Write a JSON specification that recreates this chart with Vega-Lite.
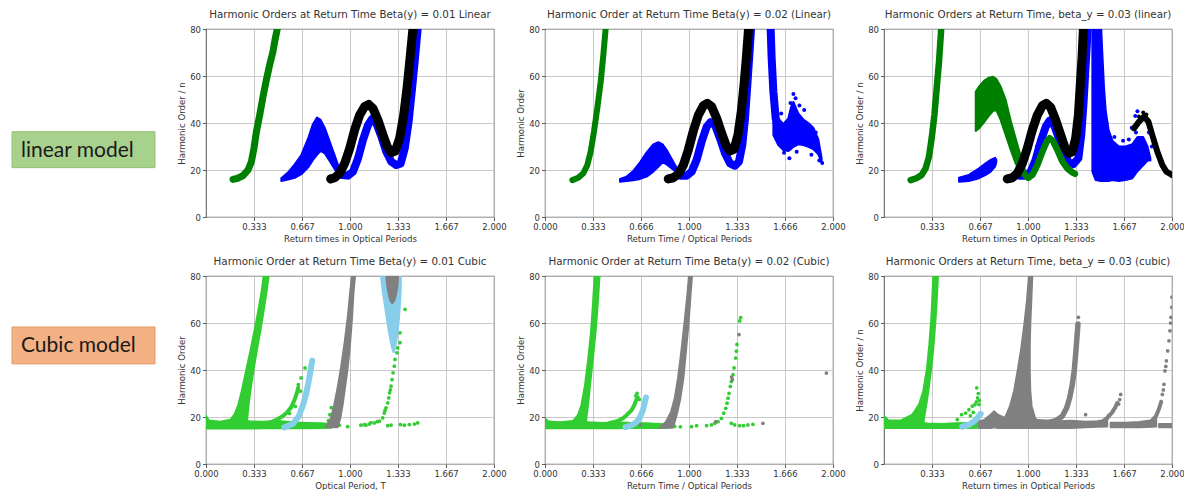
{
"$schema": "https://vega.github.io/schema/vega-lite/v6.json",
"background": "white",
"padding": {"left": 11, "top": 9, "right": 5, "bottom": 5},
"config": {
  "view": {"stroke": "#2b2b2b", "strokeWidth": 0.8},
  "axis": {"labelFont": "DejaVu Sans", "labelFontSize": 8.5, "labelColor": "#333333", "titleFont": "DejaVu Sans", "titleFontSize": 8.6, "titleFontWeight": "normal", "titleColor": "#333333", "grid": true, "gridColor": "#bdbdbd", "gridWidth": 0.8, "tickColor": "#333333", "tickSize": 3.5, "tickWidth": 0.8, "domain": false, "labelPadding": 2, "titlePadding": 3, "labelFlush": false, "labelOverlap": false, "labelBound": false},
  "title": {"font": "DejaVu Sans", "fontSize": 10.3, "fontWeight": "normal", "color": "#333333", "offset": 5}
},
"datasets": {
"d": [
{"p":1,"s":"r1","k":"l","g":"a","x":0.1875,"y":16.0},{"p":1,"s":"r1","k":"l","g":"a","x":0.222,"y":16.5},{"p":1,"s":"r1","k":"l","g":"a","x":0.257,"y":17.6},{"p":1,"s":"r1","k":"l","g":"a","x":0.292,"y":20.0},{"p":1,"s":"r1","k":"l","g":"a","x":0.315,"y":23.5},{"p":1,"s":"r1","k":"l","g":"a","x":0.333,"y":29.2},{"p":1,"s":"r1","k":"l","g":"a","x":0.35,"y":36.3},{"p":1,"s":"r1","k":"l","g":"a","x":0.373,"y":43.4},{"p":1,"s":"r1","k":"l","g":"a","x":0.396,"y":51.2},{"p":1,"s":"r1","k":"l","g":"a","x":0.419,"y":58.3},{"p":1,"s":"r1","k":"l","g":"a","x":0.442,"y":64.7},{"p":1,"s":"r1","k":"l","g":"a","x":0.465,"y":70.4},{"p":1,"s":"r1","k":"l","g":"a","x":0.481,"y":76.0},{"p":1,"s":"r1","k":"l","g":"a","x":0.495,"y":80.0},{"p":1,"s":"r1","k":"l","g":"a","x":0.501,"y":85.0},
{"p":1,"s":"r2","k":"va","g":"h","x":0.523,"y":16.5,"y2":15.3},{"p":1,"s":"r2","k":"va","g":"h","x":0.569,"y":18.9,"y2":15.9},{"p":1,"s":"r2","k":"va","g":"h","x":0.616,"y":22.4,"y2":16.7},{"p":1,"s":"r2","k":"va","g":"h","x":0.662,"y":26.4,"y2":18.2},{"p":1,"s":"r2","k":"va","g":"h","x":0.708,"y":33.2,"y2":21.0},{"p":1,"s":"r2","k":"va","g":"h","x":0.743,"y":39.6,"y2":24.3},{"p":1,"s":"r2","k":"va","g":"h","x":0.771,"y":42.3,"y2":26.4},{"p":1,"s":"r2","k":"va","g":"h","x":0.796,"y":41.3,"y2":28.2},{"p":1,"s":"r2","k":"va","g":"h","x":0.824,"y":38.0,"y2":27.1},{"p":1,"s":"r2","k":"va","g":"h","x":0.859,"y":32.1,"y2":23.8},{"p":1,"s":"r2","k":"va","g":"h","x":0.894,"y":26.1,"y2":20.3},{"p":1,"s":"r2","k":"va","g":"h","x":0.921,"y":21.4,"y2":18.3},{"p":1,"s":"r2","k":"va","g":"h","x":0.944,"y":18.6,"y2":17.2},
{"p":1,"s":"r2","k":"l","g":"s","x":0.944,"y":17.9},{"p":1,"s":"r2","k":"l","g":"s","x":0.986,"y":17.6},{"p":1,"s":"r2","k":"l","g":"s","x":1.021,"y":19.3},{"p":1,"s":"r2","k":"l","g":"s","x":1.056,"y":25.0},{"p":1,"s":"r2","k":"l","g":"s","x":1.09,"y":32.8},{"p":1,"s":"r2","k":"l","g":"s","x":1.125,"y":39.1},{"p":1,"s":"r2","k":"l","g":"s","x":1.153,"y":41.7},{"p":1,"s":"r2","k":"l","g":"s","x":1.183,"y":39.9},{"p":1,"s":"r2","k":"l","g":"s","x":1.218,"y":34.2},{"p":1,"s":"r2","k":"l","g":"s","x":1.252,"y":27.8},{"p":1,"s":"r2","k":"l","g":"s","x":1.287,"y":23.5},{"p":1,"s":"r2","k":"l","g":"s","x":1.322,"y":22.1},{"p":1,"s":"r2","k":"l","g":"s","x":1.352,"y":22.8},{"p":1,"s":"r2","k":"l","g":"s","x":1.38,"y":29.2},{"p":1,"s":"r2","k":"l","g":"s","x":1.407,"y":40.6},{"p":1,"s":"r2","k":"l","g":"s","x":1.431,"y":54.8},{"p":1,"s":"r2","k":"l","g":"s","x":1.449,"y":66.1},{"p":1,"s":"r2","k":"l","g":"s","x":1.468,"y":78.9},{"p":1,"s":"r2","k":"l","g":"s","x":1.477,"y":84.5},
{"p":1,"s":"r3","k":"l","g":"b","x":0.866,"y":16.2},{"p":1,"s":"r3","k":"l","g":"b","x":0.894,"y":16.7},{"p":1,"s":"r3","k":"l","g":"b","x":0.928,"y":18.6},{"p":1,"s":"r3","k":"l","g":"b","x":0.963,"y":22.8},{"p":1,"s":"r3","k":"l","g":"b","x":0.998,"y":29.2},{"p":1,"s":"r3","k":"l","g":"b","x":1.032,"y":37.0},{"p":1,"s":"r3","k":"l","g":"b","x":1.067,"y":43.4},{"p":1,"s":"r3","k":"l","g":"b","x":1.102,"y":47.0},{"p":1,"s":"r3","k":"l","g":"b","x":1.13,"y":47.9},{"p":1,"s":"r3","k":"l","g":"b","x":1.16,"y":46.2},{"p":1,"s":"r3","k":"l","g":"b","x":1.194,"y":41.3},{"p":1,"s":"r3","k":"l","g":"b","x":1.229,"y":34.9},{"p":1,"s":"r3","k":"l","g":"b","x":1.259,"y":29.9},{"p":1,"s":"r3","k":"l","g":"b","x":1.287,"y":27.4},{"p":1,"s":"r3","k":"l","g":"b","x":1.315,"y":28.1},{"p":1,"s":"r3","k":"l","g":"b","x":1.345,"y":33.5},{"p":1,"s":"r3","k":"l","g":"b","x":1.373,"y":43.4},{"p":1,"s":"r3","k":"l","g":"b","x":1.396,"y":54.8},{"p":1,"s":"r3","k":"l","g":"b","x":1.417,"y":67.5},{"p":1,"s":"r3","k":"l","g":"b","x":1.435,"y":78.9},{"p":1,"s":"r3","k":"l","g":"b","x":1.442,"y":84.5},

{"p":2,"s":"r1","k":"l","g":"a","x":0.19,"y":15.7},{"p":2,"s":"r1","k":"l","g":"a","x":0.231,"y":16.7},{"p":2,"s":"r1","k":"l","g":"a","x":0.266,"y":18.6},{"p":2,"s":"r1","k":"l","g":"a","x":0.294,"y":22.1},{"p":2,"s":"r1","k":"l","g":"a","x":0.317,"y":27.8},{"p":2,"s":"r1","k":"l","g":"a","x":0.34,"y":36.3},{"p":2,"s":"r1","k":"l","g":"a","x":0.363,"y":46.2},{"p":2,"s":"r1","k":"l","g":"a","x":0.387,"y":57.6},{"p":2,"s":"r1","k":"l","g":"a","x":0.405,"y":68.9},{"p":2,"s":"r1","k":"l","g":"a","x":0.421,"y":80.0},{"p":2,"s":"r1","k":"l","g":"a","x":0.426,"y":84.5},
{"p":2,"s":"r2","k":"va","g":"h","x":0.521,"y":16.2,"y2":15.0},{"p":2,"s":"r2","k":"va","g":"h","x":0.567,"y":17.2,"y2":15.3},{"p":2,"s":"r2","k":"va","g":"h","x":0.613,"y":19.6,"y2":15.6},{"p":2,"s":"r2","k":"va","g":"h","x":0.66,"y":23.3,"y2":16.2},{"p":2,"s":"r2","k":"va","g":"h","x":0.706,"y":27.5,"y2":17.2},{"p":2,"s":"r2","k":"va","g":"h","x":0.752,"y":30.9,"y2":19.3},{"p":2,"s":"r2","k":"va","g":"h","x":0.787,"y":31.8,"y2":21.4},{"p":2,"s":"r2","k":"va","g":"h","x":0.817,"y":30.9,"y2":23.3},{"p":2,"s":"r2","k":"va","g":"h","x":0.845,"y":28.5,"y2":22.4},{"p":2,"s":"r2","k":"va","g":"h","x":0.88,"y":24.7,"y2":20.7},{"p":2,"s":"r2","k":"va","g":"h","x":0.914,"y":21.0,"y2":19.0},{"p":2,"s":"r2","k":"va","g":"h","x":0.938,"y":19.0,"y2":18.2},
{"p":2,"s":"r2","k":"va","g":"c","x":1.586,"y":40.0,"y2":34.9},{"p":2,"s":"r2","k":"va","g":"c","x":1.62,"y":42.0,"y2":30.6},{"p":2,"s":"r2","k":"va","g":"c","x":1.655,"y":39.5,"y2":28.5},{"p":2,"s":"r2","k":"va","g":"c","x":1.69,"y":42.0,"y2":28.1},{"p":2,"s":"r2","k":"va","g":"c","x":1.71,"y":47.0,"y2":29.0},{"p":2,"s":"r2","k":"va","g":"c","x":1.725,"y":49.0,"y2":29.9},{"p":2,"s":"r2","k":"va","g":"c","x":1.745,"y":46.0,"y2":30.5},{"p":2,"s":"r2","k":"va","g":"c","x":1.76,"y":44.0,"y2":30.9},{"p":2,"s":"r2","k":"va","g":"c","x":1.794,"y":41.5,"y2":30.6},{"p":2,"s":"r2","k":"va","g":"c","x":1.829,"y":40.0,"y2":29.9},{"p":2,"s":"r2","k":"va","g":"c","x":1.863,"y":38.0,"y2":28.9},{"p":2,"s":"r2","k":"va","g":"c","x":1.898,"y":33.0,"y2":26.7},{"p":2,"s":"r2","k":"va","g":"c","x":1.921,"y":25.0,"y2":23.3},
{"p":2,"s":"r2","k":"l","g":"s","x":0.942,"y":17.6},{"p":2,"s":"r2","k":"l","g":"s","x":0.984,"y":17.6},{"p":2,"s":"r2","k":"l","g":"s","x":1.019,"y":19.3},{"p":2,"s":"r2","k":"l","g":"s","x":1.053,"y":24.3},{"p":2,"s":"r2","k":"l","g":"s","x":1.088,"y":32.1},{"p":2,"s":"r2","k":"l","g":"s","x":1.123,"y":38.4},{"p":2,"s":"r2","k":"l","g":"s","x":1.15,"y":40.4},{"p":2,"s":"r2","k":"l","g":"s","x":1.181,"y":39.1},{"p":2,"s":"r2","k":"l","g":"s","x":1.215,"y":33.5},{"p":2,"s":"r2","k":"l","g":"s","x":1.25,"y":27.1},{"p":2,"s":"r2","k":"l","g":"s","x":1.285,"y":22.8},{"p":2,"s":"r2","k":"l","g":"s","x":1.319,"y":21.8},{"p":2,"s":"r2","k":"l","g":"s","x":1.347,"y":23.5},{"p":2,"s":"r2","k":"l","g":"s","x":1.37,"y":30.6},{"p":2,"s":"r2","k":"l","g":"s","x":1.389,"y":42.0},{"p":2,"s":"r2","k":"l","g":"s","x":1.405,"y":56.2},{"p":2,"s":"r2","k":"l","g":"s","x":1.419,"y":68.9},{"p":2,"s":"r2","k":"l","g":"s","x":1.431,"y":80.3},{"p":2,"s":"r2","k":"l","g":"s","x":1.435,"y":84.5},
{"p":2,"s":"r2","k":"l","g":"t","x":1.5625,"y":84.5},{"p":2,"s":"r2","k":"l","g":"t","x":1.567,"y":80.0},{"p":2,"s":"r2","k":"l","g":"t","x":1.574,"y":67.5},{"p":2,"s":"r2","k":"l","g":"t","x":1.586,"y":53.3},{"p":2,"s":"r2","k":"l","g":"t","x":1.602,"y":42.0},{"p":2,"s":"r2","k":"l","g":"t","x":1.62,"y":36.3},
{"p":2,"s":"r2","k":"o","x":1.725,"y":52.3},{"p":2,"s":"r2","k":"o","x":1.74,"y":50.5},{"p":2,"s":"r2","k":"o","x":1.705,"y":48.5},{"p":2,"s":"r2","k":"o","x":1.767,"y":47.5},{"p":2,"s":"r2","k":"o","x":1.697,"y":25.0},{"p":2,"s":"r2","k":"o","x":1.748,"y":27.8},{"p":2,"s":"r2","k":"o","x":1.66,"y":27.3},{"p":2,"s":"r2","k":"o","x":1.85,"y":26.5},{"p":2,"s":"r2","k":"o","x":1.905,"y":24.0},{"p":2,"s":"r2","k":"o","x":1.64,"y":44.0},{"p":2,"s":"r2","k":"o","x":1.8,"y":45.5},{"p":2,"s":"r2","k":"o","x":1.88,"y":36.0},{"p":2,"s":"r2","k":"o","x":1.925,"y":23.0},
{"p":2,"s":"r3","k":"l","g":"b","x":0.856,"y":16.2},{"p":2,"s":"r3","k":"l","g":"b","x":0.891,"y":16.7},{"p":2,"s":"r3","k":"l","g":"b","x":0.926,"y":18.3},{"p":2,"s":"r3","k":"l","g":"b","x":0.961,"y":22.1},{"p":2,"s":"r3","k":"l","g":"b","x":0.995,"y":28.5},{"p":2,"s":"r3","k":"l","g":"b","x":1.03,"y":36.6},{"p":2,"s":"r3","k":"l","g":"b","x":1.065,"y":43.4},{"p":2,"s":"r3","k":"l","g":"b","x":1.1,"y":47.4},{"p":2,"s":"r3","k":"l","g":"b","x":1.127,"y":48.4},{"p":2,"s":"r3","k":"l","g":"b","x":1.157,"y":47.0},{"p":2,"s":"r3","k":"l","g":"b","x":1.192,"y":42.0},{"p":2,"s":"r3","k":"l","g":"b","x":1.227,"y":35.6},{"p":2,"s":"r3","k":"l","g":"b","x":1.257,"y":30.6},{"p":2,"s":"r3","k":"l","g":"b","x":1.285,"y":28.1},{"p":2,"s":"r3","k":"l","g":"b","x":1.313,"y":28.9},{"p":2,"s":"r3","k":"l","g":"b","x":1.34,"y":34.9},{"p":2,"s":"r3","k":"l","g":"b","x":1.363,"y":44.8},{"p":2,"s":"r3","k":"l","g":"b","x":1.382,"y":56.2},{"p":2,"s":"r3","k":"l","g":"b","x":1.398,"y":67.5},{"p":2,"s":"r3","k":"l","g":"b","x":1.412,"y":78.9},{"p":2,"s":"r3","k":"l","g":"b","x":1.419,"y":84.5},

{"p":3,"s":"r1","k":"l","g":"a","x":0.185,"y":15.7},{"p":3,"s":"r1","k":"l","g":"a","x":0.225,"y":16.5},{"p":3,"s":"r1","k":"l","g":"a","x":0.262,"y":17.9},{"p":3,"s":"r1","k":"l","g":"a","x":0.289,"y":20.7},{"p":3,"s":"r1","k":"l","g":"a","x":0.3125,"y":25.7},{"p":3,"s":"r1","k":"l","g":"a","x":0.331,"y":33.5},{"p":3,"s":"r1","k":"l","g":"a","x":0.35,"y":43.4},{"p":3,"s":"r1","k":"l","g":"a","x":0.366,"y":54.8},{"p":3,"s":"r1","k":"l","g":"a","x":0.382,"y":66.1},{"p":3,"s":"r1","k":"l","g":"a","x":0.396,"y":78.9},{"p":3,"s":"r1","k":"l","g":"a","x":0.4,"y":84.5},
{"p":3,"s":"r1","k":"va","g":"h","x":0.637,"y":53.3,"y2":36.6},{"p":3,"s":"r1","k":"va","g":"h","x":0.66,"y":55.5,"y2":37.7},{"p":3,"s":"r1","k":"va","g":"h","x":0.694,"y":57.9,"y2":40.3},{"p":3,"s":"r1","k":"va","g":"h","x":0.729,"y":59.3,"y2":43.1},{"p":3,"s":"r1","k":"va","g":"h","x":0.757,"y":59.7,"y2":45.1},{"p":3,"s":"r1","k":"va","g":"h","x":0.78,"y":58.7,"y2":45.5},{"p":3,"s":"r1","k":"va","g":"h","x":0.81,"y":55.5,"y2":41.3},{"p":3,"s":"r1","k":"va","g":"h","x":0.845,"y":49.8,"y2":34.9},{"p":3,"s":"r1","k":"va","g":"h","x":0.88,"y":41.0,"y2":28.5},{"p":3,"s":"r1","k":"va","g":"h","x":0.914,"y":33.5,"y2":22.8},{"p":3,"s":"r1","k":"va","g":"h","x":0.949,"y":26.0,"y2":18.6},{"p":3,"s":"r1","k":"va","g":"h","x":0.979,"y":20.0,"y2":16.5},{"p":3,"s":"r1","k":"va","g":"h","x":1.002,"y":17.2,"y2":16.2},
{"p":3,"s":"r1","k":"l","g":"c","x":1.002,"y":16.7},{"p":3,"s":"r1","k":"l","g":"c","x":1.03,"y":17.9},{"p":3,"s":"r1","k":"l","g":"c","x":1.065,"y":22.1},{"p":3,"s":"r1","k":"l","g":"c","x":1.1,"y":27.8},{"p":3,"s":"r1","k":"l","g":"c","x":1.13,"y":32.1},{"p":3,"s":"r1","k":"l","g":"c","x":1.15,"y":33.5},{"p":3,"s":"r1","k":"l","g":"c","x":1.174,"y":32.3},{"p":3,"s":"r1","k":"l","g":"c","x":1.204,"y":28.5},{"p":3,"s":"r1","k":"l","g":"c","x":1.238,"y":23.8},{"p":3,"s":"r1","k":"l","g":"c","x":1.273,"y":20.7},{"p":3,"s":"r1","k":"l","g":"c","x":1.308,"y":19.0},{"p":3,"s":"r1","k":"l","g":"c","x":1.326,"y":18.4},
{"p":3,"s":"r2","k":"va","g":"h","x":0.521,"y":16.7,"y2":15.0},{"p":3,"s":"r2","k":"va","g":"h","x":0.59,"y":17.9,"y2":15.3},{"p":3,"s":"r2","k":"va","g":"h","x":0.66,"y":20.7,"y2":16.5},{"p":3,"s":"r2","k":"va","g":"h","x":0.706,"y":22.8,"y2":17.9},{"p":3,"s":"r2","k":"va","g":"h","x":0.741,"y":24.3,"y2":19.3},{"p":3,"s":"r2","k":"va","g":"h","x":0.771,"y":25.2,"y2":21.4},{"p":3,"s":"r2","k":"va","g":"h","x":0.78,"y":24.3,"y2":23.3},
{"p":3,"s":"r2","k":"va","g":"k","x":1.447,"y":84.5,"y2":19.3},{"p":3,"s":"r2","k":"va","g":"k","x":1.47,"y":84.5,"y2":15.7},{"p":3,"s":"r2","k":"va","g":"k","x":1.505,"y":84.5,"y2":15.3},{"p":3,"s":"r2","k":"va","g":"k","x":1.516,"y":70.0,"y2":15.3},{"p":3,"s":"r2","k":"va","g":"k","x":1.528,"y":55.0,"y2":15.3},{"p":3,"s":"r2","k":"va","g":"k","x":1.54,"y":45.0,"y2":15.3},{"p":3,"s":"r2","k":"va","g":"k","x":1.56,"y":37.0,"y2":15.3},{"p":3,"s":"r2","k":"va","g":"k","x":1.586,"y":32.5,"y2":15.7},{"p":3,"s":"r2","k":"va","g":"k","x":1.63,"y":30.0,"y2":15.3},{"p":3,"s":"r2","k":"va","g":"k","x":1.678,"y":30.0,"y2":15.7},{"p":3,"s":"r2","k":"va","g":"k","x":1.725,"y":31.0,"y2":16.5},{"p":3,"s":"r2","k":"va","g":"k","x":1.76,"y":34.0,"y2":19.5},{"p":3,"s":"r2","k":"va","g":"k","x":1.8,"y":34.0,"y2":22.0},{"p":3,"s":"r2","k":"va","g":"k","x":1.83,"y":30.0,"y2":24.0},{"p":3,"s":"r2","k":"va","g":"k","x":1.85,"y":25.0,"y2":24.0},
{"p":3,"s":"r2","k":"l","g":"s","x":0.942,"y":17.6},{"p":3,"s":"r2","k":"l","g":"s","x":0.984,"y":17.6},{"p":3,"s":"r2","k":"l","g":"s","x":1.019,"y":19.3},{"p":3,"s":"r2","k":"l","g":"s","x":1.053,"y":24.3},{"p":3,"s":"r2","k":"l","g":"s","x":1.088,"y":32.1},{"p":3,"s":"r2","k":"l","g":"s","x":1.123,"y":38.4},{"p":3,"s":"r2","k":"l","g":"s","x":1.15,"y":41.0},{"p":3,"s":"r2","k":"l","g":"s","x":1.181,"y":39.1},{"p":3,"s":"r2","k":"l","g":"s","x":1.215,"y":33.5},{"p":3,"s":"r2","k":"l","g":"s","x":1.25,"y":27.1},{"p":3,"s":"r2","k":"l","g":"s","x":1.285,"y":23.0},{"p":3,"s":"r2","k":"l","g":"s","x":1.315,"y":22.5},{"p":3,"s":"r2","k":"l","g":"s","x":1.35,"y":25.0},{"p":3,"s":"r2","k":"l","g":"s","x":1.37,"y":35.0},{"p":3,"s":"r2","k":"l","g":"s","x":1.385,"y":48.0},{"p":3,"s":"r2","k":"l","g":"s","x":1.398,"y":62.0},{"p":3,"s":"r2","k":"l","g":"s","x":1.41,"y":75.0},{"p":3,"s":"r2","k":"l","g":"s","x":1.418,"y":84.5},
{"p":3,"s":"r2","k":"o","x":1.76,"y":45.0},{"p":3,"s":"r2","k":"o","x":1.745,"y":43.0},{"p":3,"s":"r2","k":"o","x":1.78,"y":41.0},{"p":3,"s":"r2","k":"o","x":1.72,"y":38.0},{"p":3,"s":"r2","k":"o","x":1.84,"y":36.0},{"p":3,"s":"r2","k":"o","x":1.66,"y":32.5},{"p":3,"s":"r2","k":"o","x":1.6,"y":34.0},{"p":3,"s":"r2","k":"o","x":1.86,"y":30.0},{"p":3,"s":"r2","k":"o","x":1.7,"y":33.0},{"p":3,"s":"r2","k":"o","x":1.75,"y":36.0},{"p":3,"s":"r2","k":"o","x":1.062,"y":30.0},{"p":3,"s":"r2","k":"o","x":1.545,"y":40.0},
{"p":3,"s":"r3","k":"l","g":"b","x":0.856,"y":16.2},{"p":3,"s":"r3","k":"l","g":"b","x":0.891,"y":16.7},{"p":3,"s":"r3","k":"l","g":"b","x":0.926,"y":18.6},{"p":3,"s":"r3","k":"l","g":"b","x":0.961,"y":22.8},{"p":3,"s":"r3","k":"l","g":"b","x":0.995,"y":29.2},{"p":3,"s":"r3","k":"l","g":"b","x":1.03,"y":37.0},{"p":3,"s":"r3","k":"l","g":"b","x":1.065,"y":43.4},{"p":3,"s":"r3","k":"l","g":"b","x":1.1,"y":47.4},{"p":3,"s":"r3","k":"l","g":"b","x":1.127,"y":48.4},{"p":3,"s":"r3","k":"l","g":"b","x":1.157,"y":46.7},{"p":3,"s":"r3","k":"l","g":"b","x":1.192,"y":41.3},{"p":3,"s":"r3","k":"l","g":"b","x":1.227,"y":34.9},{"p":3,"s":"r3","k":"l","g":"b","x":1.257,"y":29.5},{"p":3,"s":"r3","k":"l","g":"b","x":1.285,"y":27.1},{"p":3,"s":"r3","k":"l","g":"b","x":1.308,"y":27.8},{"p":3,"s":"r3","k":"l","g":"b","x":1.331,"y":33.5},{"p":3,"s":"r3","k":"l","g":"b","x":1.35,"y":43.4},{"p":3,"s":"r3","k":"l","g":"b","x":1.363,"y":56.2},{"p":3,"s":"r3","k":"l","g":"b","x":1.375,"y":67.5},{"p":3,"s":"r3","k":"l","g":"b","x":1.384,"y":78.9},{"p":3,"s":"r3","k":"l","g":"b","x":1.389,"y":84.5},
{"p":3,"s":"r3","k":"lt","g":"r","x":1.736,"y":37.7},{"p":3,"s":"r3","k":"lt","g":"r","x":1.771,"y":40.6},{"p":3,"s":"r3","k":"lt","g":"r","x":1.806,"y":42.7},{"p":3,"s":"r3","k":"lt","g":"r","x":1.836,"y":40.6},{"p":3,"s":"r3","k":"lt","g":"r","x":1.863,"y":34.9},{"p":3,"s":"r3","k":"lt","g":"r","x":1.898,"y":27.8},{"p":3,"s":"r3","k":"lt","g":"r","x":1.933,"y":22.1},{"p":3,"s":"r3","k":"lt","g":"r","x":1.961,"y":19.3},{"p":3,"s":"r3","k":"lt","g":"r","x":1.991,"y":18.2},
{"p":3,"s":"r3","k":"o","x":1.8,"y":44.5},{"p":3,"s":"r3","k":"o","x":1.77,"y":42.8},{"p":3,"s":"r3","k":"o","x":1.75,"y":38.5},{"p":3,"s":"r3","k":"o","x":1.822,"y":43.6},{"p":3,"s":"r3","k":"o","x":1.998,"y":17.4},

{"p":4,"s":"r1","k":"ha","g":"a","y":16.1,"x":0.127,"x2":0.289},{"p":4,"s":"r1","k":"ha","g":"a","y":18.2,"x":0.162,"x2":0.285},{"p":4,"s":"r1","k":"ha","g":"a","y":21.0,"x":0.197,"x2":0.289},{"p":4,"s":"r1","k":"ha","g":"a","y":25.3,"x":0.225,"x2":0.296},{"p":4,"s":"r1","k":"ha","g":"a","y":31.0,"x":0.248,"x2":0.308},{"p":4,"s":"r1","k":"ha","g":"a","y":39.5,"x":0.278,"x2":0.329},{"p":4,"s":"r1","k":"ha","g":"a","y":48.0,"x":0.308,"x2":0.352},{"p":4,"s":"r1","k":"ha","g":"a","y":56.5,"x":0.336,"x2":0.377},{"p":4,"s":"r1","k":"ha","g":"a","y":65.1,"x":0.363,"x2":0.4},{"p":4,"s":"r1","k":"ha","g":"a","y":73.6,"x":0.387,"x2":0.421},{"p":4,"s":"r1","k":"ha","g":"a","y":80.0,"x":0.4,"x2":0.435},{"p":4,"s":"r1","k":"ha","g":"a","y":83.5,"x":0.407,"x2":0.442},
{"p":4,"s":"r1","k":"va","g":"b","x":0.0,"y":20.5,"y2":15.1},{"p":4,"s":"r1","k":"va","g":"b","x":0.02,"y":18.5,"y2":15.1},{"p":4,"s":"r1","k":"va","g":"b","x":0.05,"y":18.3,"y2":15.1},{"p":4,"s":"r1","k":"va","g":"b","x":0.1,"y":18.0,"y2":15.1},{"p":4,"s":"r1","k":"va","g":"b","x":0.15,"y":18.6,"y2":15.1},{"p":4,"s":"r1","k":"va","g":"b","x":0.2,"y":18.9,"y2":15.1},{"p":4,"s":"r1","k":"va","g":"b","x":0.3,"y":18.2,"y2":15.1},{"p":4,"s":"r1","k":"va","g":"b","x":0.4,"y":18.0,"y2":15.2},{"p":4,"s":"r1","k":"va","g":"b","x":0.5,"y":18.3,"y2":15.2},{"p":4,"s":"r1","k":"va","g":"b","x":0.6,"y":17.8,"y2":15.2},{"p":4,"s":"r1","k":"va","g":"b","x":0.7,"y":17.5,"y2":15.2},{"p":4,"s":"r1","k":"va","g":"b","x":0.8,"y":17.3,"y2":15.3},{"p":4,"s":"r1","k":"va","g":"b","x":0.87,"y":17.0,"y2":15.4},
{"p":4,"s":"r1","k":"lt","g":"c","x":0.44,"y":17.5},{"p":4,"s":"r1","k":"lt","g":"c","x":0.49,"y":18.8},{"p":4,"s":"r1","k":"lt","g":"c","x":0.532,"y":20.3},{"p":4,"s":"r1","k":"lt","g":"c","x":0.56,"y":21.8},{"p":4,"s":"r1","k":"lt","g":"c","x":0.59,"y":24.0},{"p":4,"s":"r1","k":"lt","g":"c","x":0.613,"y":27.0},{"p":4,"s":"r1","k":"lt","g":"c","x":0.63,"y":30.0},{"p":4,"s":"r1","k":"lt","g":"c","x":0.64,"y":32.5},
{"p":4,"s":"r1","k":"o","x":0.641,"y":33.8},{"p":4,"s":"r1","k":"o","x":0.66,"y":36.6},{"p":4,"s":"r1","k":"o","x":0.6875,"y":40.9},{"p":4,"s":"r1","k":"o","x":0.655,"y":31.0},{"p":4,"s":"r1","k":"o","x":0.62,"y":24.5},{"p":4,"s":"r1","k":"o","x":0.58,"y":21.5},{"p":4,"s":"r1","k":"o","x":0.85,"y":18.5},{"p":4,"s":"r1","k":"o","x":0.86,"y":21.0},{"p":4,"s":"r1","k":"o","x":0.87,"y":24.0},{"p":4,"s":"r1","k":"o","x":0.926,"y":16.5},{"p":4,"s":"r1","k":"o","x":0.984,"y":15.9},
{"p":4,"s":"r1","k":"o","x":1.134,"y":17.0},{"p":4,"s":"r1","k":"o","x":1.169,"y":17.5},{"p":4,"s":"r1","k":"o","x":1.204,"y":18.2},{"p":4,"s":"r1","k":"o","x":1.227,"y":19.6},{"p":4,"s":"r1","k":"o","x":1.238,"y":21.7},{"p":4,"s":"r1","k":"o","x":1.25,"y":23.9},{"p":4,"s":"r1","k":"o","x":1.262,"y":26.0},{"p":4,"s":"r1","k":"o","x":1.269,"y":28.1},{"p":4,"s":"r1","k":"o","x":1.275,"y":30.3},{"p":4,"s":"r1","k":"o","x":1.285,"y":33.1},{"p":4,"s":"r1","k":"o","x":1.292,"y":35.9},{"p":4,"s":"r1","k":"o","x":1.299,"y":38.8},{"p":4,"s":"r1","k":"o","x":1.308,"y":41.6},{"p":4,"s":"r1","k":"o","x":1.3125,"y":44.5},{"p":4,"s":"r1","k":"o","x":1.326,"y":47.3},{"p":4,"s":"r1","k":"o","x":1.331,"y":49.4},{"p":4,"s":"r1","k":"o","x":1.347,"y":51.6},{"p":4,"s":"r1","k":"o","x":1.347,"y":55.8},{"p":4,"s":"r1","k":"o","x":1.382,"y":65.8},{"p":4,"s":"r1","k":"o","x":1.076,"y":16.5},{"p":4,"s":"r1","k":"o","x":1.1,"y":16.8},{"p":4,"s":"r1","k":"o","x":1.111,"y":16.5},{"p":4,"s":"r1","k":"o","x":1.262,"y":16.3},{"p":4,"s":"r1","k":"o","x":1.285,"y":16.5},{"p":4,"s":"r1","k":"o","x":1.35,"y":16.8},{"p":4,"s":"r1","k":"o","x":1.377,"y":16.5},{"p":4,"s":"r1","k":"o","x":1.412,"y":16.8},{"p":4,"s":"r1","k":"o","x":1.447,"y":17.0},{"p":4,"s":"r1","k":"o","x":1.47,"y":17.5},{"p":4,"s":"r1","k":"o","x":1.145,"y":17.6},{"p":4,"s":"r1","k":"o","x":1.19,"y":18.0},{"p":4,"s":"r1","k":"o","x":1.243,"y":22.8},{"p":4,"s":"r1","k":"o","x":1.28,"y":31.5},
{"p":4,"s":"r2","k":"l","g":"s","x":0.544,"y":15.6},{"p":4,"s":"r2","k":"l","g":"s","x":0.602,"y":17.0},{"p":4,"s":"r2","k":"l","g":"s","x":0.644,"y":20.3},{"p":4,"s":"r2","k":"l","g":"s","x":0.671,"y":24.6},{"p":4,"s":"r2","k":"l","g":"s","x":0.694,"y":29.5},{"p":4,"s":"r2","k":"l","g":"s","x":0.713,"y":35.2},{"p":4,"s":"r2","k":"l","g":"s","x":0.729,"y":40.9},{"p":4,"s":"r2","k":"l","g":"s","x":0.738,"y":44.0},
{"p":4,"s":"r2","k":"ha","g":"t","y":47.7,"x":1.301,"x2":1.306},{"p":4,"s":"r2","k":"ha","g":"t","y":48.7,"x":1.296,"x2":1.31},{"p":4,"s":"r2","k":"ha","g":"t","y":52.3,"x":1.282,"x2":1.322},{"p":4,"s":"r2","k":"ha","g":"t","y":56.5,"x":1.269,"x2":1.331},{"p":4,"s":"r2","k":"ha","g":"t","y":62.2,"x":1.255,"x2":1.34},{"p":4,"s":"r2","k":"ha","g":"t","y":67.9,"x":1.241,"x2":1.347},{"p":4,"s":"r2","k":"ha","g":"t","y":73.6,"x":1.227,"x2":1.352},{"p":4,"s":"r2","k":"ha","g":"t","y":80.0,"x":1.215,"x2":1.354},{"p":4,"s":"r2","k":"ha","g":"t","y":83.5,"x":1.211,"x2":1.359},
{"p":4,"s":"r3","k":"ha","g":"g","y":15.6,"x":0.833,"x2":0.914},{"p":4,"s":"r3","k":"ha","g":"g","y":19.6,"x":0.868,"x2":0.933},{"p":4,"s":"r3","k":"ha","g":"g","y":25.3,"x":0.891,"x2":0.949},{"p":4,"s":"r3","k":"ha","g":"g","y":32.4,"x":0.914,"x2":0.965},{"p":4,"s":"r3","k":"ha","g":"g","y":40.9,"x":0.9375,"x2":0.984},{"p":4,"s":"r3","k":"ha","g":"g","y":50.9,"x":0.961,"x2":1.0},{"p":4,"s":"r3","k":"ha","g":"g","y":62.2,"x":0.984,"x2":1.014},{"p":4,"s":"r3","k":"ha","g":"g","y":73.6,"x":1.002,"x2":1.025},{"p":4,"s":"r3","k":"ha","g":"g","y":80.0,"x":1.014,"x2":1.035},{"p":4,"s":"r3","k":"ha","g":"g","y":83.5,"x":1.019,"x2":1.039},
{"p":4,"s":"r3","k":"ha","g":"t","y":68.5,"x":1.292,"x2":1.296},{"p":4,"s":"r3","k":"ha","g":"t","y":69.6,"x":1.28,"x2":1.308},{"p":4,"s":"r3","k":"ha","g":"t","y":72.2,"x":1.269,"x2":1.319},{"p":4,"s":"r3","k":"ha","g":"t","y":75.7,"x":1.259,"x2":1.329},{"p":4,"s":"r3","k":"ha","g":"t","y":80.0,"x":1.252,"x2":1.334},{"p":4,"s":"r3","k":"ha","g":"t","y":83.5,"x":1.25,"x2":1.336},

{"p":5,"s":"r1","k":"ha","g":"a","y":16.3,"x":0.133,"x2":0.283},{"p":5,"s":"r1","k":"ha","g":"a","y":18.0,"x":0.191,"x2":0.285},{"p":5,"s":"r1","k":"ha","g":"a","y":20.9,"x":0.23,"x2":0.29},{"p":5,"s":"r1","k":"ha","g":"a","y":25.1,"x":0.253,"x2":0.299},{"p":5,"s":"r1","k":"ha","g":"a","y":33.7,"x":0.278,"x2":0.313},{"p":5,"s":"r1","k":"ha","g":"a","y":45.1,"x":0.301,"x2":0.333},{"p":5,"s":"r1","k":"ha","g":"a","y":56.6,"x":0.32,"x2":0.352},{"p":5,"s":"r1","k":"ha","g":"a","y":68.0,"x":0.333,"x2":0.366},{"p":5,"s":"r1","k":"ha","g":"a","y":80.1,"x":0.345,"x2":0.379},{"p":5,"s":"r1","k":"ha","g":"a","y":83.7,"x":0.347,"x2":0.384},
{"p":5,"s":"r1","k":"va","g":"b","x":0.0,"y":19.5,"y2":15.2},{"p":5,"s":"r1","k":"va","g":"b","x":0.02,"y":18.2,"y2":15.2},{"p":5,"s":"r1","k":"va","g":"b","x":0.05,"y":18.0,"y2":15.2},{"p":5,"s":"r1","k":"va","g":"b","x":0.1,"y":17.8,"y2":15.2},{"p":5,"s":"r1","k":"va","g":"b","x":0.2,"y":18.3,"y2":15.2},{"p":5,"s":"r1","k":"va","g":"b","x":0.3,"y":17.8,"y2":15.2},{"p":5,"s":"r1","k":"va","g":"b","x":0.4,"y":17.5,"y2":15.2},{"p":5,"s":"r1","k":"va","g":"b","x":0.5,"y":17.8,"y2":15.2},{"p":5,"s":"r1","k":"va","g":"b","x":0.6,"y":17.5,"y2":15.3},{"p":5,"s":"r1","k":"va","g":"b","x":0.7,"y":17.3,"y2":15.3},{"p":5,"s":"r1","k":"va","g":"b","x":0.8,"y":17.0,"y2":15.3},{"p":5,"s":"r1","k":"va","g":"b","x":0.86,"y":16.8,"y2":15.4},
{"p":5,"s":"r1","k":"lt","g":"c","x":0.45,"y":17.5},{"p":5,"s":"r1","k":"lt","g":"c","x":0.5,"y":18.2},{"p":5,"s":"r1","k":"lt","g":"c","x":0.54,"y":19.4},{"p":5,"s":"r1","k":"lt","g":"c","x":0.57,"y":21.0},{"p":5,"s":"r1","k":"lt","g":"c","x":0.6,"y":22.8},{"p":5,"s":"r1","k":"lt","g":"c","x":0.62,"y":25.0},{"p":5,"s":"r1","k":"lt","g":"c","x":0.635,"y":27.5},
{"p":5,"s":"r1","k":"o","x":0.639,"y":30.1},{"p":5,"s":"r1","k":"o","x":0.63,"y":29.0},{"p":5,"s":"r1","k":"o","x":0.645,"y":28.5},{"p":5,"s":"r1","k":"o","x":0.655,"y":27.5},
{"p":5,"s":"r1","k":"o","x":1.018,"y":15.9},{"p":5,"s":"r1","k":"o","x":1.053,"y":16.3},{"p":5,"s":"r1","k":"o","x":1.122,"y":16.3},{"p":5,"s":"r1","k":"o","x":1.156,"y":16.6},{"p":5,"s":"r1","k":"o","x":1.179,"y":17.3},{"p":5,"s":"r1","k":"o","x":1.202,"y":18.0},{"p":5,"s":"r1","k":"o","x":1.225,"y":19.4},{"p":5,"s":"r1","k":"o","x":1.241,"y":21.6},{"p":5,"s":"r1","k":"o","x":1.255,"y":23.7},{"p":5,"s":"r1","k":"o","x":1.264,"y":25.9},{"p":5,"s":"r1","k":"o","x":1.271,"y":28.0},{"p":5,"s":"r1","k":"o","x":1.278,"y":30.1},{"p":5,"s":"r1","k":"o","x":1.287,"y":33.0},{"p":5,"s":"r1","k":"o","x":1.294,"y":35.1},{"p":5,"s":"r1","k":"o","x":1.306,"y":38.0},{"p":5,"s":"r1","k":"o","x":1.313,"y":40.9},{"p":5,"s":"r1","k":"o","x":1.324,"y":45.1},{"p":5,"s":"r1","k":"o","x":1.329,"y":48.0},{"p":5,"s":"r1","k":"o","x":1.333,"y":50.9},{"p":5,"s":"r1","k":"o","x":1.352,"y":60.9},{"p":5,"s":"r1","k":"o","x":1.359,"y":62.3},{"p":5,"s":"r1","k":"o","x":1.294,"y":17.3},{"p":5,"s":"r1","k":"o","x":1.317,"y":16.6},{"p":5,"s":"r1","k":"o","x":1.352,"y":16.3},{"p":5,"s":"r1","k":"o","x":1.379,"y":16.3},{"p":5,"s":"r1","k":"o","x":1.409,"y":16.6},{"p":5,"s":"r1","k":"o","x":1.444,"y":16.9},{"p":5,"s":"r1","k":"o","x":0.9,"y":16.0},{"p":5,"s":"r1","k":"o","x":0.94,"y":15.8},
{"p":5,"s":"r2","k":"l","g":"s","x":0.559,"y":15.7},{"p":5,"s":"r2","k":"l","g":"s","x":0.605,"y":16.6},{"p":5,"s":"r2","k":"l","g":"s","x":0.639,"y":18.0},{"p":5,"s":"r2","k":"l","g":"s","x":0.662,"y":20.1},{"p":5,"s":"r2","k":"l","g":"s","x":0.68,"y":23.0},{"p":5,"s":"r2","k":"l","g":"s","x":0.692,"y":25.9},{"p":5,"s":"r2","k":"l","g":"s","x":0.701,"y":28.3},
{"p":5,"s":"r3","k":"ha","g":"g","y":15.4,"x":0.795,"x2":0.887},{"p":5,"s":"r3","k":"ha","g":"g","y":18.0,"x":0.841,"x2":0.901},{"p":5,"s":"r3","k":"ha","g":"g","y":22.3,"x":0.876,"x2":0.92},{"p":5,"s":"r3","k":"ha","g":"g","y":28.0,"x":0.901,"x2":0.94},{"p":5,"s":"r3","k":"ha","g":"g","y":36.6,"x":0.924,"x2":0.961},{"p":5,"s":"r3","k":"ha","g":"g","y":48.0,"x":0.947,"x2":0.979},{"p":5,"s":"r3","k":"ha","g":"g","y":60.9,"x":0.97,"x2":0.998},{"p":5,"s":"r3","k":"ha","g":"g","y":72.3,"x":0.989,"x2":1.011},{"p":5,"s":"r3","k":"ha","g":"g","y":80.1,"x":1.0,"x2":1.021},{"p":5,"s":"r3","k":"ha","g":"g","y":83.7,"x":1.005,"x2":1.025},
{"p":5,"s":"r3","k":"o","x":1.347,"y":55.1},{"p":5,"s":"r3","k":"o","x":1.301,"y":35.9},{"p":5,"s":"r3","k":"o","x":1.513,"y":17.3},{"p":5,"s":"r3","k":"o","x":1.954,"y":38.7},{"p":5,"s":"r3","k":"o","x":0.662,"y":16.6},{"p":5,"s":"r3","k":"o","x":1.186,"y":18.0},{"p":5,"s":"r3","k":"o","x":1.296,"y":37.0},

{"p":6,"s":"r1","k":"ha","g":"a","y":16.4,"x":0.0,"x2":0.271},{"p":6,"s":"r1","k":"ha","g":"a","y":18.1,"x":0.104,"x2":0.275},{"p":6,"s":"r1","k":"ha","g":"a","y":21.0,"x":0.197,"x2":0.282},{"p":6,"s":"r1","k":"ha","g":"a","y":25.3,"x":0.243,"x2":0.294},{"p":6,"s":"r1","k":"ha","g":"a","y":31.0,"x":0.273,"x2":0.308},{"p":6,"s":"r1","k":"ha","g":"a","y":41.0,"x":0.299,"x2":0.329},{"p":6,"s":"r1","k":"ha","g":"a","y":51.0,"x":0.315,"x2":0.345},{"p":6,"s":"r1","k":"ha","g":"a","y":62.4,"x":0.329,"x2":0.359},{"p":6,"s":"r1","k":"ha","g":"a","y":73.9,"x":0.338,"x2":0.37},{"p":6,"s":"r1","k":"ha","g":"a","y":80.3,"x":0.343,"x2":0.375},{"p":6,"s":"r1","k":"ha","g":"a","y":83.9,"x":0.345,"x2":0.377},
{"p":6,"s":"r1","k":"va","g":"b","x":0.0,"y":20.5,"y2":15.3},{"p":6,"s":"r1","k":"va","g":"b","x":0.03,"y":18.5,"y2":15.3},{"p":6,"s":"r1","k":"va","g":"b","x":0.1,"y":18.5,"y2":15.3},{"p":6,"s":"r1","k":"va","g":"b","x":0.2,"y":17.8,"y2":15.3},{"p":6,"s":"r1","k":"va","g":"b","x":0.3,"y":17.2,"y2":15.3},{"p":6,"s":"r1","k":"va","g":"b","x":0.4,"y":17.0,"y2":15.3},{"p":6,"s":"r1","k":"va","g":"b","x":0.5,"y":17.3,"y2":15.3},{"p":6,"s":"r1","k":"va","g":"b","x":0.6,"y":17.5,"y2":15.3},{"p":6,"s":"r1","k":"va","g":"b","x":0.66,"y":17.5,"y2":15.4},
{"p":6,"s":"r1","k":"o","x":0.567,"y":21.7},{"p":6,"s":"r1","k":"o","x":0.59,"y":23.1},{"p":6,"s":"r1","k":"o","x":0.613,"y":24.6},{"p":6,"s":"r1","k":"o","x":0.632,"y":25.3},{"p":6,"s":"r1","k":"o","x":0.641,"y":26.4},{"p":6,"s":"r1","k":"o","x":0.65,"y":28.1},{"p":6,"s":"r1","k":"o","x":0.644,"y":32.4},{"p":6,"s":"r1","k":"o","x":0.66,"y":25.3},{"p":6,"s":"r1","k":"o","x":0.539,"y":21.0},{"p":6,"s":"r1","k":"o","x":0.509,"y":18.9},{"p":6,"s":"r1","k":"o","x":0.655,"y":30.0},{"p":6,"s":"r1","k":"o","x":0.62,"y":22.0},{"p":6,"s":"r1","k":"o","x":0.6,"y":20.5},{"p":6,"s":"r1","k":"o","x":0.662,"y":27.0},{"p":6,"s":"r1","k":"o","x":1.56,"y":20.7},
{"p":6,"s":"r2","k":"l","g":"s","x":0.544,"y":15.9},{"p":6,"s":"r2","k":"l","g":"s","x":0.59,"y":16.7},{"p":6,"s":"r2","k":"l","g":"s","x":0.625,"y":18.1},{"p":6,"s":"r2","k":"l","g":"s","x":0.653,"y":19.9},{"p":6,"s":"r2","k":"l","g":"s","x":0.671,"y":21.3},
{"p":6,"s":"r3","k":"ha","g":"g","y":17.4,"x":0.799,"x2":1.076},{"p":6,"s":"r3","k":"ha","g":"g","y":19.6,"x":0.84,"x2":1.049},{"p":6,"s":"r3","k":"ha","g":"g","y":24.6,"x":0.875,"x2":1.025},{"p":6,"s":"r3","k":"ha","g":"g","y":31.0,"x":0.903,"x2":1.016},{"p":6,"s":"r3","k":"ha","g":"g","y":39.6,"x":0.928,"x2":1.012},{"p":6,"s":"r3","k":"ha","g":"g","y":49.6,"x":0.954,"x2":1.012},{"p":6,"s":"r3","k":"ha","g":"g","y":59.6,"x":0.975,"x2":1.016},{"p":6,"s":"r3","k":"ha","g":"g","y":69.6,"x":0.993,"x2":1.023},{"p":6,"s":"r3","k":"ha","g":"g","y":80.3,"x":1.007,"x2":1.03},{"p":6,"s":"r3","k":"ha","g":"g","y":83.9,"x":1.012,"x2":1.035},
{"p":6,"s":"r3","k":"va","g":"b","x":0.66,"y":18.1,"y2":15.3},{"p":6,"s":"r3","k":"va","g":"b","x":0.7,"y":18.9,"y2":15.3},{"p":6,"s":"r3","k":"va","g":"b","x":0.74,"y":21.0,"y2":15.3},{"p":6,"s":"r3","k":"va","g":"b","x":0.764,"y":22.4,"y2":15.6},{"p":6,"s":"r3","k":"va","g":"b","x":0.79,"y":21.0,"y2":15.3},{"p":6,"s":"r3","k":"va","g":"b","x":0.84,"y":19.6,"y2":15.3},{"p":6,"s":"r3","k":"va","g":"b","x":1.0,"y":18.9,"y2":15.3},{"p":6,"s":"r3","k":"va","g":"b","x":1.1,"y":18.6,"y2":15.3},{"p":6,"s":"r3","k":"va","g":"b","x":1.2,"y":18.2,"y2":15.3},{"p":6,"s":"r3","k":"va","g":"b","x":1.3,"y":18.4,"y2":15.3},{"p":6,"s":"r3","k":"va","g":"b","x":1.4,"y":18.0,"y2":15.6},{"p":6,"s":"r3","k":"va","g":"b","x":1.48,"y":18.2,"y2":15.8},{"p":6,"s":"r3","k":"va","g":"b","x":1.55,"y":18.8,"y2":16.0},
{"p":6,"s":"r3","k":"va","g":"c","x":1.574,"y":17.6,"y2":15.6},{"p":6,"s":"r3","k":"va","g":"c","x":1.678,"y":17.6,"y2":15.6},{"p":6,"s":"r3","k":"va","g":"c","x":1.771,"y":17.9,"y2":15.6},{"p":6,"s":"r3","k":"va","g":"c","x":1.863,"y":18.6,"y2":15.8},{"p":6,"s":"r3","k":"va","g":"c","x":1.89,"y":20.0,"y2":16.0},
{"p":6,"s":"r3","k":"va","g":"d","x":1.91,"y":17.0,"y2":15.6},{"p":6,"s":"r3","k":"va","g":"d","x":2.0,"y":17.0,"y2":15.6},
{"p":6,"s":"r3","k":"l","g":"t","x":1.123,"y":17.4},{"p":6,"s":"r3","k":"l","g":"t","x":1.192,"y":18.4},{"p":6,"s":"r3","k":"l","g":"t","x":1.238,"y":20.3},{"p":6,"s":"r3","k":"l","g":"t","x":1.269,"y":23.9},{"p":6,"s":"r3","k":"l","g":"t","x":1.289,"y":28.1},{"p":6,"s":"r3","k":"l","g":"t","x":1.308,"y":33.9},{"p":6,"s":"r3","k":"l","g":"t","x":1.322,"y":40.3},{"p":6,"s":"r3","k":"l","g":"t","x":1.331,"y":46.7},{"p":6,"s":"r3","k":"l","g":"t","x":1.34,"y":53.9},{"p":6,"s":"r3","k":"l","g":"t","x":1.347,"y":59.6},
{"p":6,"s":"r3","k":"lt","g":"u","x":1.516,"y":17.9},{"p":6,"s":"r3","k":"lt","g":"u","x":1.551,"y":19.6},{"p":6,"s":"r3","k":"lt","g":"u","x":1.581,"y":21.7},{"p":6,"s":"r3","k":"lt","g":"u","x":1.604,"y":23.9},{"p":6,"s":"r3","k":"lt","g":"u","x":1.62,"y":26.0},
{"p":6,"s":"r3","k":"lt","g":"v","x":1.863,"y":18.6},{"p":6,"s":"r3","k":"lt","g":"v","x":1.89,"y":20.5},{"p":6,"s":"r3","k":"lt","g":"v","x":1.91,"y":23.5},{"p":6,"s":"r3","k":"lt","g":"v","x":1.925,"y":26.5},
{"p":6,"s":"r3","k":"o","x":1.35,"y":62.4},{"p":6,"s":"r3","k":"o","x":1.644,"y":29.6},{"p":6,"s":"r3","k":"o","x":1.637,"y":27.4},{"p":6,"s":"r3","k":"o","x":1.933,"y":29.6},{"p":6,"s":"r3","k":"o","x":1.944,"y":33.9},{"p":6,"s":"r3","k":"o","x":1.951,"y":39.6},{"p":6,"s":"r3","k":"o","x":1.961,"y":43.9},{"p":6,"s":"r3","k":"o","x":1.97,"y":48.1},{"p":6,"s":"r3","k":"o","x":1.979,"y":52.4},{"p":6,"s":"r3","k":"o","x":1.986,"y":56.7},{"p":6,"s":"r3","k":"o","x":1.993,"y":62.4},{"p":6,"s":"r3","k":"o","x":1.998,"y":66.7},{"p":6,"s":"r3","k":"o","x":2.0,"y":71.0},{"p":6,"s":"r3","k":"o","x":1.94,"y":31.5},{"p":6,"s":"r3","k":"o","x":1.957,"y":41.5},{"p":6,"s":"r3","k":"o","x":1.99,"y":60.0},{"p":6,"s":"r3","k":"o","x":1.4,"y":21.0},{"p":6,"s":"r3","k":"o","x":1.63,"y":25.5},{"p":6,"s":"r3","k":"o","x":1.59,"y":22.5}
]
},
"columns": 4,
"spacing": {"row": 59, "column": 51},
"bounds": "flush",
"align": "each",
"concat": [
{
 "width": 143, "height": 188,
 "view": {"stroke": null},
 "data": {"values": [{"t": "linear model"}]},
 "layer": [
  {"mark": {"type": "rect", "fill": "#a9d18e", "stroke": "#93c274", "strokeWidth": 1},
   "encoding": {"x": {"datum": 0, "type": "quantitative", "scale": {"domain": [0, 1]}, "axis": null}, "x2": {"datum": 1},
                "y": {"datum": 21.0, "type": "quantitative", "scale": {"domain": [0, 80]}, "axis": null}, "y2": {"datum": 36.3}}},
  {"mark": {"type": "text", "font": "Lato", "fontSize": 21, "align": "left", "baseline": "alphabetic", "color": "#1a1a1a"},
   "encoding": {"text": {"field": "t"}, "x": {"datum": 0.063, "type": "quantitative", "axis": null}, "y": {"datum": 25.5, "type": "quantitative", "axis": null}}}
 ]
},
{
 "width": 288, "height": 188,
 "title": "Harmonic Orders at Return Time Beta(y) = 0.01 Linear",
 "data": {"name": "d"},
 "transform": [{"filter": "datum.p == 1"}],
 "encoding": {
  "x": {"field": "x", "type": "quantitative", "stack": null, "scale": {"domain": [0, 2], "nice": false}, "axis": {"values": [0.333, 0.667, 1, 1.333, 1.667, 2], "format": ".3f", "title": "Return times in Optical Periods"}},
  "y": {"field": "y", "type": "quantitative", "stack": null, "scale": {"domain": [0, 80], "nice": false}, "axis": {"values": [0, 20, 40, 60, 80], "title": "Harmonic Order / n"}}
 },
 "layer": [
  {"transform": [{"filter": "datum.s == 'r1' && datum.k == 'l'"}], "mark": {"type": "line", "color": "#008000", "strokeWidth": 7, "strokeCap": "round", "strokeJoin": "round", "clip": true}, "encoding": {"detail": {"field": "g"}}},
  {"transform": [{"filter": "datum.s == 'r2' && datum.k == 'va'"}], "mark": {"type": "area", "orient": "vertical", "fill": "#0000ff", "stroke": "#0000ff", "strokeWidth": 2, "strokeJoin": "round", "opacity": 1, "clip": true}, "encoding": {"y2": {"field": "y2"}, "detail": {"field": "g"}}},
  {"transform": [{"filter": "datum.s == 'r2' && datum.k == 'l'"}], "mark": {"type": "line", "color": "#0000ff", "strokeWidth": 8, "strokeCap": "round", "strokeJoin": "round", "clip": true}, "encoding": {"detail": {"field": "g"}}},
  {"transform": [{"filter": "datum.s == 'r3' && datum.k == 'l'"}], "mark": {"type": "line", "color": "#000000", "strokeWidth": 9, "strokeCap": "round", "strokeJoin": "round", "clip": true}, "encoding": {"detail": {"field": "g"}}}
 ]
},
{
 "width": 288, "height": 188,
 "title": "Harmonic Order at Return Time Beta(y) = 0.02 (Linear)",
 "data": {"name": "d"},
 "transform": [{"filter": "datum.p == 2"}],
 "encoding": {
  "x": {"field": "x", "type": "quantitative", "stack": null, "scale": {"domain": [0, 2], "nice": false}, "axis": {"values": [0, 0.333, 0.666, 1, 1.333, 1.666, 2], "format": ".3f", "title": "Return Time / Optical Periods"}},
  "y": {"field": "y", "type": "quantitative", "stack": null, "scale": {"domain": [0, 80], "nice": false}, "axis": {"values": [0, 20, 40, 60, 80], "title": "Harmonic Order"}}
 },
 "layer": [
  {"transform": [{"filter": "datum.s == 'r1' && datum.k == 'l'"}], "mark": {"type": "line", "color": "#008000", "strokeWidth": 6, "strokeCap": "round", "strokeJoin": "round", "clip": true}, "encoding": {"detail": {"field": "g"}}},
  {"transform": [{"filter": "datum.s == 'r2' && datum.k == 'va'"}], "mark": {"type": "area", "orient": "vertical", "fill": "#0000ff", "stroke": "#0000ff", "strokeWidth": 2, "strokeJoin": "round", "opacity": 1, "clip": true}, "encoding": {"y2": {"field": "y2"}, "detail": {"field": "g"}}},
  {"transform": [{"filter": "datum.s == 'r2' && datum.k == 'l'"}], "mark": {"type": "line", "color": "#0000ff", "strokeWidth": 8, "strokeCap": "round", "strokeJoin": "round", "clip": true}, "encoding": {"detail": {"field": "g"}}},
  {"transform": [{"filter": "datum.s == 'r2' && datum.k == 'o'"}], "mark": {"type": "circle", "color": "#0000ff", "size": 16, "opacity": 1, "clip": true}},
  {"transform": [{"filter": "datum.s == 'r3' && datum.k == 'l'"}], "mark": {"type": "line", "color": "#000000", "strokeWidth": 9, "strokeCap": "round", "strokeJoin": "round", "clip": true}, "encoding": {"detail": {"field": "g"}}}
 ]
},
{
 "width": 288, "height": 188,
 "title": "Harmonic Orders at Return Time, beta_y = 0.03 (linear)",
 "data": {"name": "d"},
 "transform": [{"filter": "datum.p == 3"}],
 "encoding": {
  "x": {"field": "x", "type": "quantitative", "stack": null, "scale": {"domain": [0, 2], "nice": false}, "axis": {"values": [0.333, 0.667, 1, 1.333, 1.667, 2], "format": ".3f", "title": "Return times in Optical Periods"}},
  "y": {"field": "y", "type": "quantitative", "stack": null, "scale": {"domain": [0, 80], "nice": false}, "axis": {"values": [0, 20, 40, 60, 80], "title": "Harmonic Order / n"}}
 },
 "layer": [
  {"transform": [{"filter": "datum.s == 'r2' && datum.k == 'va'"}], "mark": {"type": "area", "orient": "vertical", "fill": "#0000ff", "stroke": "#0000ff", "strokeWidth": 2, "strokeJoin": "round", "opacity": 1, "clip": true}, "encoding": {"y2": {"field": "y2"}, "detail": {"field": "g"}}},
  {"transform": [{"filter": "datum.s == 'r2' && datum.k == 'l'"}], "mark": {"type": "line", "color": "#0000ff", "strokeWidth": 8, "strokeCap": "round", "strokeJoin": "round", "clip": true}, "encoding": {"detail": {"field": "g"}}},
  {"transform": [{"filter": "datum.s == 'r2' && datum.k == 'o'"}], "mark": {"type": "circle", "color": "#0000ff", "size": 16, "opacity": 1, "clip": true}},
  {"transform": [{"filter": "datum.s == 'r1' && datum.k == 'va'"}], "mark": {"type": "area", "orient": "vertical", "fill": "#008000", "stroke": "#008000", "strokeWidth": 2, "strokeJoin": "round", "opacity": 1, "clip": true}, "encoding": {"y2": {"field": "y2"}, "detail": {"field": "g"}}},
  {"transform": [{"filter": "datum.s == 'r1' && datum.k == 'l'"}], "mark": {"type": "line", "color": "#008000", "strokeWidth": 6.5, "strokeCap": "round", "strokeJoin": "round", "clip": true}, "encoding": {"detail": {"field": "g"}}},
  {"transform": [{"filter": "datum.s == 'r3' && datum.k == 'l'"}], "mark": {"type": "line", "color": "#000000", "strokeWidth": 9, "strokeCap": "round", "strokeJoin": "round", "clip": true}, "encoding": {"detail": {"field": "g"}}},
  {"transform": [{"filter": "datum.s == 'r3' && datum.k == 'lt'"}], "mark": {"type": "line", "color": "#000000", "strokeWidth": 6, "strokeCap": "round", "strokeJoin": "round", "clip": true}, "encoding": {"detail": {"field": "g"}}},
  {"transform": [{"filter": "datum.s == 'r3' && datum.k == 'o'"}], "mark": {"type": "circle", "color": "#000000", "size": 16, "opacity": 1, "clip": true}}
 ]
},
{
 "width": 143, "height": 188,
 "view": {"stroke": null},
 "data": {"values": [{"t": "Cubic model"}]},
 "layer": [
  {"mark": {"type": "rect", "fill": "#f4b183", "stroke": "#e49a69", "strokeWidth": 1},
   "encoding": {"x": {"datum": 0, "type": "quantitative", "scale": {"domain": [0, 1]}, "axis": null}, "x2": {"datum": 1},
                "y": {"datum": 42.6, "type": "quantitative", "scale": {"domain": [0, 80]}, "axis": null}, "y2": {"datum": 58.3}}},
  {"mark": {"type": "text", "font": "Lato", "fontSize": 21, "align": "left", "baseline": "alphabetic", "color": "#1a1a1a"},
   "encoding": {"text": {"field": "t"}, "x": {"datum": 0.063, "type": "quantitative", "axis": null}, "y": {"datum": 47.6, "type": "quantitative", "axis": null}}}
 ]
},
{
 "width": 288, "height": 188,
 "title": "Harmonic Order at Return Time Beta(y) = 0.01 Cubic",
 "data": {"name": "d"},
 "transform": [{"filter": "datum.p == 4"}],
 "encoding": {
  "x": {"field": "x", "type": "quantitative", "stack": null, "scale": {"domain": [0, 2], "nice": false}, "axis": {"values": [0, 0.333, 0.667, 1, 1.333, 1.667, 2], "format": ".3f", "title": "Optical Period, T"}},
  "y": {"field": "y", "type": "quantitative", "stack": null, "scale": {"domain": [0, 80], "nice": false}, "axis": {"values": [0, 20, 40, 60, 80], "title": "Harmonic Order"}}
 },
 "layer": [
  {"transform": [{"filter": "datum.s == 'r1' && datum.k == 'ha'"}], "mark": {"type": "area", "orient": "horizontal", "fill": "#32cd32", "stroke": "#32cd32", "strokeWidth": 2, "strokeJoin": "round", "opacity": 1, "clip": true}, "encoding": {"x2": {"field": "x2"}, "detail": {"field": "g"}}},
  {"transform": [{"filter": "datum.s == 'r1' && datum.k == 'va'"}], "mark": {"type": "area", "orient": "vertical", "fill": "#32cd32", "stroke": "#32cd32", "strokeWidth": 2, "strokeJoin": "round", "opacity": 1, "clip": true}, "encoding": {"y2": {"field": "y2"}, "detail": {"field": "g"}}},
  {"transform": [{"filter": "datum.s == 'r1' && datum.k == 'lt'"}], "mark": {"type": "line", "color": "#32cd32", "strokeWidth": 4, "strokeCap": "round", "strokeJoin": "round", "clip": true}, "encoding": {"detail": {"field": "g"}}},
  {"transform": [{"filter": "datum.s == 'r1' && datum.k == 'o'"}], "mark": {"type": "circle", "color": "#32cd32", "size": 14, "opacity": 1, "clip": true}},
  {"transform": [{"filter": "datum.s == 'r2' && datum.k == 'l'"}], "mark": {"type": "line", "color": "#87ceeb", "strokeWidth": 6, "strokeCap": "round", "strokeJoin": "round", "clip": true}, "encoding": {"detail": {"field": "g"}}},
  {"transform": [{"filter": "datum.s == 'r2' && datum.k == 'ha'"}], "mark": {"type": "area", "orient": "horizontal", "fill": "#87ceeb", "stroke": "#87ceeb", "strokeWidth": 2, "strokeJoin": "round", "opacity": 1, "clip": true}, "encoding": {"x2": {"field": "x2"}, "detail": {"field": "g"}}},
  {"transform": [{"filter": "datum.s == 'r3' && datum.k == 'ha'"}], "mark": {"type": "area", "orient": "horizontal", "fill": "#808080", "stroke": "#808080", "strokeWidth": 2, "strokeJoin": "round", "opacity": 1, "clip": true}, "encoding": {"x2": {"field": "x2"}, "detail": {"field": "g"}}}
 ]
},
{
 "width": 288, "height": 188,
 "title": "Harmonic Order at Return Time Beta(y) = 0.02 (Cubic)",
 "data": {"name": "d"},
 "transform": [{"filter": "datum.p == 5"}],
 "encoding": {
  "x": {"field": "x", "type": "quantitative", "stack": null, "scale": {"domain": [0, 2], "nice": false}, "axis": {"values": [0, 0.333, 0.666, 1, 1.333, 1.666, 2], "format": ".3f", "title": "Return Time / Optical Periods"}},
  "y": {"field": "y", "type": "quantitative", "stack": null, "scale": {"domain": [0, 80], "nice": false}, "axis": {"values": [0, 20, 40, 60, 80], "title": "Harmonic Order"}}
 },
 "layer": [
  {"transform": [{"filter": "datum.s == 'r1' && datum.k == 'ha'"}], "mark": {"type": "area", "orient": "horizontal", "fill": "#32cd32", "stroke": "#32cd32", "strokeWidth": 2, "strokeJoin": "round", "opacity": 1, "clip": true}, "encoding": {"x2": {"field": "x2"}, "detail": {"field": "g"}}},
  {"transform": [{"filter": "datum.s == 'r1' && datum.k == 'va'"}], "mark": {"type": "area", "orient": "vertical", "fill": "#32cd32", "stroke": "#32cd32", "strokeWidth": 2, "strokeJoin": "round", "opacity": 1, "clip": true}, "encoding": {"y2": {"field": "y2"}, "detail": {"field": "g"}}},
  {"transform": [{"filter": "datum.s == 'r1' && datum.k == 'lt'"}], "mark": {"type": "line", "color": "#32cd32", "strokeWidth": 4, "strokeCap": "round", "strokeJoin": "round", "clip": true}, "encoding": {"detail": {"field": "g"}}},
  {"transform": [{"filter": "datum.s == 'r1' && datum.k == 'o'"}], "mark": {"type": "circle", "color": "#32cd32", "size": 14, "opacity": 1, "clip": true}},
  {"transform": [{"filter": "datum.s == 'r2' && datum.k == 'l'"}], "mark": {"type": "line", "color": "#87ceeb", "strokeWidth": 6, "strokeCap": "round", "strokeJoin": "round", "clip": true}, "encoding": {"detail": {"field": "g"}}},
  {"transform": [{"filter": "datum.s == 'r3' && datum.k == 'ha'"}], "mark": {"type": "area", "orient": "horizontal", "fill": "#808080", "stroke": "#808080", "strokeWidth": 2, "strokeJoin": "round", "opacity": 1, "clip": true}, "encoding": {"x2": {"field": "x2"}, "detail": {"field": "g"}}},
  {"transform": [{"filter": "datum.s == 'r3' && datum.k == 'o'"}], "mark": {"type": "circle", "color": "#808080", "size": 14, "opacity": 1, "clip": true}}
 ]
},
{
 "width": 288, "height": 188,
 "title": "Harmonic Orders at Return Time, beta_y = 0.03 (cubic)",
 "data": {"name": "d"},
 "transform": [{"filter": "datum.p == 6"}],
 "encoding": {
  "x": {"field": "x", "type": "quantitative", "stack": null, "scale": {"domain": [0, 2], "nice": false}, "axis": {"values": [0.333, 0.667, 1, 1.333, 1.667, 2], "format": ".3f", "title": "Return times in Optical Periods"}},
  "y": {"field": "y", "type": "quantitative", "stack": null, "scale": {"domain": [0, 80], "nice": false}, "axis": {"values": [0, 20, 40, 60, 80], "title": "Harmonic Order / n"}}
 },
 "layer": [
  {"transform": [{"filter": "datum.s == 'r1' && datum.k == 'ha'"}], "mark": {"type": "area", "orient": "horizontal", "fill": "#32cd32", "stroke": "#32cd32", "strokeWidth": 2, "strokeJoin": "round", "opacity": 1, "clip": true}, "encoding": {"x2": {"field": "x2"}, "detail": {"field": "g"}}},
  {"transform": [{"filter": "datum.s == 'r1' && datum.k == 'va'"}], "mark": {"type": "area", "orient": "vertical", "fill": "#32cd32", "stroke": "#32cd32", "strokeWidth": 2, "strokeJoin": "round", "opacity": 1, "clip": true}, "encoding": {"y2": {"field": "y2"}, "detail": {"field": "g"}}},
  {"transform": [{"filter": "datum.s == 'r1' && datum.k == 'o'"}], "mark": {"type": "circle", "color": "#32cd32", "size": 14, "opacity": 1, "clip": true}},
  {"transform": [{"filter": "datum.s == 'r2' && datum.k == 'l'"}], "mark": {"type": "line", "color": "#87ceeb", "strokeWidth": 6, "strokeCap": "round", "strokeJoin": "round", "clip": true}, "encoding": {"detail": {"field": "g"}}},
  {"transform": [{"filter": "datum.s == 'r3' && datum.k == 'ha'"}], "mark": {"type": "area", "orient": "horizontal", "fill": "#808080", "stroke": "#808080", "strokeWidth": 2, "strokeJoin": "round", "opacity": 1, "clip": true}, "encoding": {"x2": {"field": "x2"}, "detail": {"field": "g"}}},
  {"transform": [{"filter": "datum.s == 'r3' && datum.k == 'va'"}], "mark": {"type": "area", "orient": "vertical", "fill": "#808080", "stroke": "#808080", "strokeWidth": 2, "strokeJoin": "round", "opacity": 1, "clip": true}, "encoding": {"y2": {"field": "y2"}, "detail": {"field": "g"}}},
  {"transform": [{"filter": "datum.s == 'r3' && datum.k == 'l'"}], "mark": {"type": "line", "color": "#808080", "strokeWidth": 5.5, "strokeCap": "round", "strokeJoin": "round", "clip": true}, "encoding": {"detail": {"field": "g"}}},
  {"transform": [{"filter": "datum.s == 'r3' && datum.k == 'lt'"}], "mark": {"type": "line", "color": "#808080", "strokeWidth": 4, "strokeCap": "round", "strokeJoin": "round", "clip": true}, "encoding": {"detail": {"field": "g"}}},
  {"transform": [{"filter": "datum.s == 'r3' && datum.k == 'o'"}], "mark": {"type": "circle", "color": "#808080", "size": 14, "opacity": 1, "clip": true}}
 ]
}
]
}
